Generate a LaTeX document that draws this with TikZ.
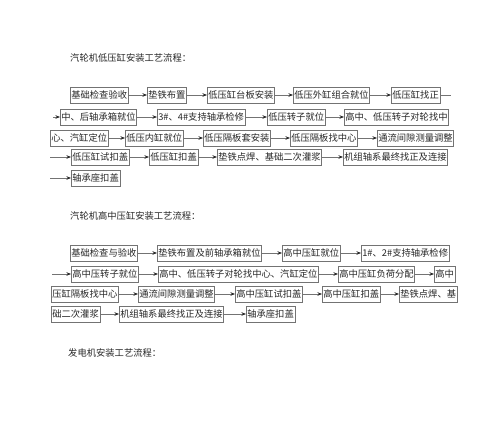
\documentclass[tikz,border=0pt]{standalone}
\usepackage{fontspec}
\usepackage{tikz}
\usetikzlibrary{arrows.meta}
\newfontfamily\cjk{Noto Sans CJK SC}
\definecolor{boxgray}{gray}{0.45}
\definecolor{inkgray}{gray}{0.15}

\begin{document}
\begin{tikzpicture}[x=1pt,y=-1pt,
   stage/.style={draw=boxgray,line width=.6pt,text=inkgray,anchor=west,inner xsep=1pt,inner ysep=0pt,minimum height=16pt,font=\cjk\fontsize{9.3}{10}\selectfont},
   heading/.style={anchor=west,inner sep=0pt,text=inkgray,font=\cjk\fontsize{9.3}{10}\selectfont},
   flow/.style={draw=boxgray,line width=.6pt,-{Stealth[length=4.5pt,width=3.5pt,color=inkgray]}},
   wrap/.style={draw=boxgray,line width=.6pt}]
\useasboundingbox (0,0) rectangle (500,420);
%
       \node [heading] at (70,58) (low title) {汽轮机低压缸安装工艺流程：};
          \node [stage] at (70,95) (low base) {基础检查验收};
             \node [stage] at (147,95) (low shim) {垫铁布置};
              \node [stage] at (207,95) (low plate) {低压缸台板安装};
               \node [stage] at (293,95) (low outer) {低压外缸组合就位};
                \node [stage] at (391,95) (low align) {低压缸找正};
                \coordinate (lowendA) at (451,95);
%
                \coordinate (lowstartB) at (53,117);
                \node [stage] at (60,117) (low box) {中、后轴承箱就位};
                  \node [stage] at (157,117) (low brg) {3\#、4\#支持轴承检修};
                   \node [stage] at (267,117) (low rotor) {低压转子就位};
                       \node [stage] at (344,117) (low coup) {高中、低压转子对轮找中};
%
                        \node [stage] at (50,138) (low coup2) {心、汽缸定位};
                        \node [stage] at (125,138) (low inner) {低压内缸就位};
                        \node [stage] at (203,138) (low sleeve) {低压隔板套安装};
                        \node [stage] at (290,138) (low diaph) {低压隔板找中心};
                        \node [stage] at (377,138) (low gap) {通流间隙测量调整};
%
                        \coordinate (lowstartD) at (50,157);
                        \node [stage] at (71,157) (low trial) {低压缸试扣盖};
                        \node [stage] at (149,157) (low cover) {低压缸扣盖};
                        \node [stage] at (217,157) (low grout) {垫铁点焊、基础二次灌浆};
                        \node [stage] at (343,157) (low final) {机组轴系最终找正及连接};
%
                        \coordinate (lowstartE) at (50,178);
                        \node [stage] at (71,178) (low cap) {轴承座扣盖};
%
%
       \node [heading] at (70,216) (hi title) {汽轮机高中压缸安装工艺流程：};
          \node [stage] at (70,253) (hi base) {基础检查与验收};
             \node [stage] at (157,253) (hi shim) {垫铁布置及前轴承箱就位};
              \node [stage] at (282,253) (hi cyl) {高中压缸就位};
               \node [stage] at (361,253) (hi brg) {1\#、2\#支持轴承检修};
%
                \coordinate (histartB) at (52,274);
                \node [stage] at (71,274) (hi rotor) {高中压转子就位};
                  \node [stage] at (158,274) (hi coup) {高中、低压转子对轮找中心、汽缸定位};
                   \node [stage] at (338,274) (hi load) {高中压缸负荷分配};
                    \node [stage] at (434,274) (hi diaph) {高中};
%
                        \node [stage] at (51,294) (hi diaph2) {压缸隔板找中心};
                        \node [stage] at (138,294) (hi gap) {通流间隙测量调整};
                        \node [stage] at (235,294) (hi trial) {高中压缸试扣盖};
                        \node [stage] at (322,294) (hi cover) {高中压缸扣盖};
                        \node [stage] at (399,294) (hi grout) {垫铁点焊、基};
%
                        \node [stage] at (51,314) (hi grout2) {础二次灌浆};
                        \node [stage] at (119,314) (hi final) {机组轴系最终找正及连接};
                        \node [stage] at (246,314) (hi cap) {轴承座扣盖};
%
       \node [heading] at (68,353) (gen title) {发电机安装工艺流程：};
%
%
\path[flow] (low base) edge (low shim);
\path[flow] (low shim) edge (low plate);
\path[flow] (low plate) edge (low outer);
\path[flow] (low outer) edge (low align);
\draw[wrap] (low align.east) -- (lowendA);
\draw[flow] (lowstartB) -- (low box.west);
\path[flow] (low box) edge (low brg);
\path[flow] (low brg) edge (low rotor);
\path[flow] (low rotor) edge (low coup);
\path[flow] (low coup2) edge (low inner);
\path[flow] (low inner) edge (low sleeve);
\path[flow] (low sleeve) edge (low diaph);
\path[flow] (low diaph) edge (low gap);
\draw[flow] (lowstartD) -- (low trial.west);
\path[flow] (low trial) edge (low cover);
\path[flow] (low cover) edge (low grout);
\path[flow] (low grout) edge (low final);
\draw[flow] (lowstartE) -- (low cap.west);
%
\path[flow] (hi base) edge (hi shim);
\path[flow] (hi shim) edge (hi cyl);
\path[flow] (hi cyl) edge (hi brg);
\draw[flow] (histartB) -- (hi rotor.west);
\path[flow] (hi rotor) edge (hi coup);
\path[flow] (hi coup) edge (hi load);
\path[flow] (hi load) edge (hi diaph);
\path[flow] (hi diaph2) edge (hi gap);
\path[flow] (hi gap) edge (hi trial);
\path[flow] (hi trial) edge (hi cover);
\path[flow] (hi cover) edge (hi grout);
\path[flow] (hi grout2) edge (hi final);
\path[flow] (hi final) edge (hi cap);

\end{tikzpicture}
\end{document}
